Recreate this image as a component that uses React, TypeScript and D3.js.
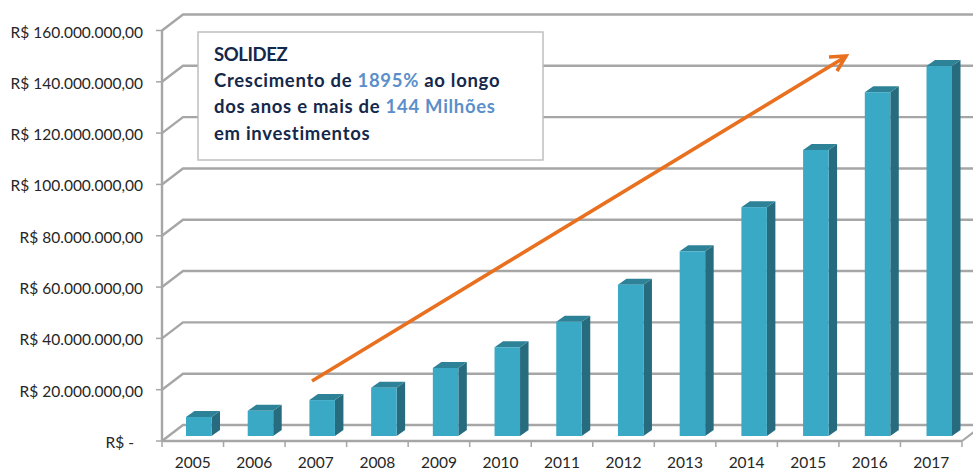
import * as d3 from "d3";
import { useEffect, useRef } from "react";

const years = ["2005", "2006", "2007", "2008", "2009", "2010", "2011", "2012", "2013", "2014", "2015", "2016", "2017"];
const investimentos = [7.4, 9.8, 14, 18.8, 26.5, 34.6, 44.5, 59, 72, 89.2, 111.5, 134, 144.2].map((d) => d * 1e6);
const yTicks = [0, 20, 40, 60, 80, 100, 120, 140, 160].map((d) => d * 1e6);
const yTickLabels = [
  "R$ -",
  "R$ 20.000.000,00",
  "R$ 40.000.000,00",
  "R$ 60.000.000,00",
  "R$ 80.000.000,00",
  "R$ 100.000.000,00",
  "R$ 120.000.000,00",
  "R$ 140.000.000,00",
  "R$ 160.000.000,00",
];

const width = 973;
const height = 468;
const fontFamily = "Lato, 'Open Sans', sans-serif";

export default function App() {
  const chartRef = useRef<SVGSVGElement>(null);

  useEffect(() => {
    const svg = d3.select(chartRef.current);
    svg.selectAll("*").remove();

    const x = d3.scaleBand().domain(years).range([162, 962]);
    // bars sit on the floor a bit further in, so they get their own scale
    const xBar = d3.scalePoint().domain(years).range([186, 926.5]);
    const y = d3.scaleLinear().domain([0, 160e6]).range([441, 30.5]);

    const wallDx = 21;
    const wallDy = -16;
    const gridColor = "#a6a6a6";

    // Walls: gridlines run from the front axis to the back wall and across it.
    const grid = svg.append("g").attr("fill", "none").attr("stroke", gridColor).attr("stroke-width", 2.4);
    yTicks.forEach((t) => {
      grid.append("path").attr(
        "d",
        d3.line()([
          [x.range()[0], y(t)],
          [x.range()[0] + wallDx, y(t) + wallDy],
          [width + 2, y(t) + wallDy],
        ]) as string
      );
    });

    // Front axis and floor edge.
    const axisG = svg.append("g").attr("stroke", gridColor).attr("fill", "none");
    axisG.append("line")
      .attr("x1", 162).attr("x2", 162)
      .attr("y1", y(160e6)).attr("y2", y(0))
      .attr("stroke-width", 2.4);
    axisG.append("line")
      .attr("x1", 162).attr("x2", 962)
      .attr("y1", y(0)).attr("y2", y(0))
      .attr("stroke-width", 2.4);
    axisG.append("line")
      .attr("x1", 962).attr("x2", 962 + wallDx)
      .attr("y1", y(0)).attr("y2", y(0) + wallDy)
      .attr("stroke-width", 2);

    yTicks.forEach((t) => {
      axisG.append("line")
        .attr("x1", 156).attr("x2", 162)
        .attr("y1", y(t)).attr("y2", y(t))
        .attr("stroke-width", 1.5);
    });
    [...years, "end"].forEach((yr, i) => {
      const tx = i < years.length ? (x(yr) as number) : 962;
      axisG.append("line")
        .attr("x1", tx).attr("x2", tx)
        .attr("y1", y(0)).attr("y2", y(0) + 6)
        .attr("stroke-width", 1.5);
    });

    // Y labels
    svg.append("g")
      .selectAll("text")
      .data(yTicks)
      .join("text")
      .attr("x", (_, i) => (i === 0 ? 134 : 143))
      .attr("y", (d) => y(d) + 7)
      .attr("text-anchor", "end")
      .attr("font-family", fontFamily)
      .attr("font-size", 15.5)
      .attr("fill", "#262626")
      .text((_, i) => yTickLabels[i]);

    // X labels
    svg.append("g")
      .selectAll("text")
      .data(years)
      .join("text")
      .attr("x", (d) => (x(d) as number) + x.bandwidth() / 2)
      .attr("y", 467.5)
      .attr("text-anchor", "middle")
      .attr("font-family", fontFamily)
      .attr("font-size", 15.5)
      .attr("fill", "#262626")
      .text((d) => d);

    // 3D bars
    const barW = 25.5;
    const barBase = y(0) - 5;
    const depthX = 8.5;
    const depthY = -6;
    const bars = svg.append("g")
      .selectAll("g")
      .data(years)
      .join("g")
      .attr("transform", (d) => `translate(${xBar(d)},0)`);
    const barTop = (i: number) => barBase - (y(0) - y(investimentos[i]));

    bars.append("path")
      .attr("fill", "#276b7e")
      .attr("d", (_, i) =>
        d3.line()([
          [barW, barTop(i)],
          [barW + depthX, barTop(i) + depthY],
          [barW + depthX, barBase + depthY],
          [barW, barBase],
        ]) + "Z"
      );
    bars.append("path")
      .attr("fill", "#2e8298")
      .attr("d", (_, i) =>
        d3.line()([
          [0, barTop(i)],
          [depthX, barTop(i) + depthY],
          [barW + depthX, barTop(i) + depthY],
          [barW, barTop(i)],
        ]) + "Z"
      );
    bars.append("rect")
      .attr("fill", "#3aa9c6")
      .attr("x", 0)
      .attr("width", barW)
      .attr("y", (_, i) => barTop(i))
      .attr("height", (_, i) => barBase - barTop(i));

    // Callout box
    svg.append("rect")
      .attr("x", 198).attr("y", 32)
      .attr("width", 345).attr("height", 128)
      .attr("fill", "#fff")
      .attr("stroke", "#bfbfbf")
      .attr("stroke-width", 1.5);

    const dark = "#14284b";
    const blue = "#5b8fc9";
    const lines: [string, string][][] = [
      [["SOLIDEZ", dark]],
      [["Crescimento de ", dark], ["1895%", blue], [" ao longo", dark]],
      [["dos anos e mais de ", dark], ["144 Milhões", blue]],
      [["em investimentos", dark]],
    ];
    const textG = svg.append("g")
      .attr("font-family", fontFamily)
      .attr("font-weight", 700)
      .attr("font-size", 18.5);
    lines.forEach((parts, i) => {
      const t = textG.append("text")
        .attr("x", 214)
        .attr("y", 61 + i * 26.2)
        .attr("letter-spacing", i === 0 ? -0.4 : 0.7)
        .style("white-space", "pre");
      parts.forEach(([s, c]) => t.append("tspan").attr("fill", c).text(s));
    });

    // Growth arrow
    const orange = "#e8701f";
    const arrow = svg.append("g")
      .attr("fill", "none")
      .attr("stroke", orange)
      .attr("stroke-width", 3.6);
    arrow.append("path").attr("d", "M312,381L846,56.5");
    arrow.append("path").attr("d", "M829,57L846,56L837,71");
  }, []);

  return (
    <svg
      ref={chartRef}
      width={width}
      height={height}
      style={{ position: "absolute", left: 0, top: 0, background: "#fff" }}
    />
  );
}
